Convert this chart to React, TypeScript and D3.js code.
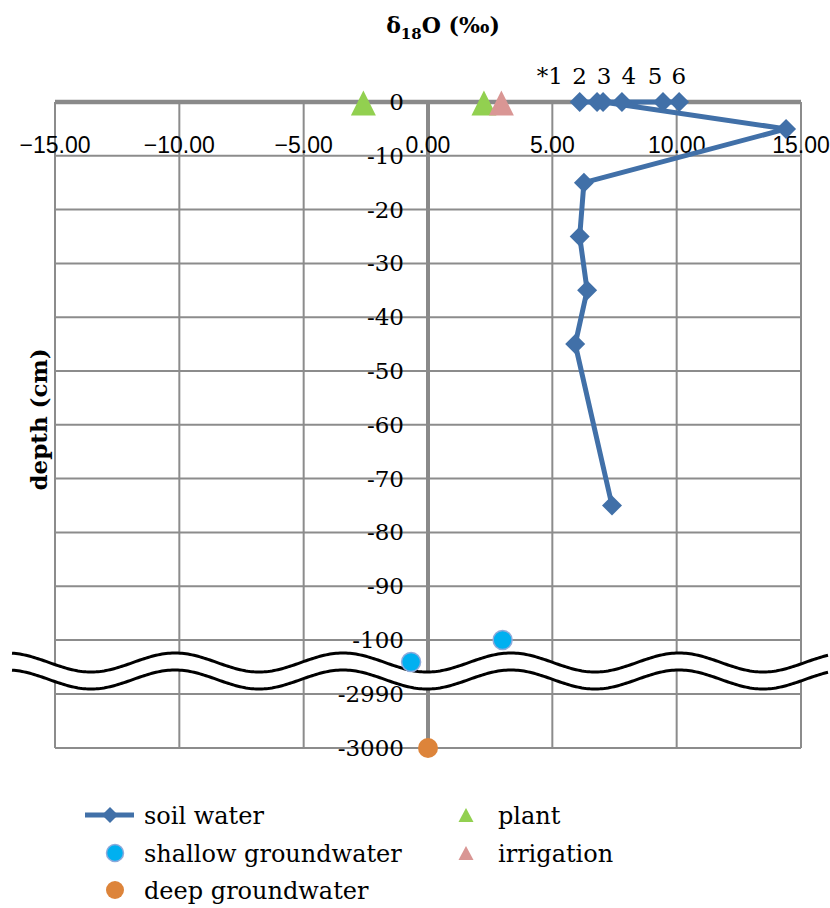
import React from 'react';
import * as d3 from 'd3';

// soil water profile (δ18O ‰ vs depth cm); first six are the surface samples *1..6
const soilX = [10.1, 9.45, 7.8, 6.1, 6.8, 7.04, 14.4, 6.27, 6.1, 6.4, 5.92, 7.4];
const soilDepth = [0, 0, 0, 0, 0, 0, -5, -15, -25, -35, -45, -75];
const plantX = [-2.6, 2.25];
const plantDepth = [0, 0];
const irrigationX = [2.95];
const irrigationDepth = [0];
const shallowX = [3.0, -0.68];
const shallowDepth = [-100, -1280];
const deepX = [0.0];
const deepDepth = [-3000];

const xTicks = [-15, -10, -5, 0, 5, 10, 15];
const yTicks = [0, -10, -20, -30, -40, -50, -60, -70, -80, -90, -100, -2990, -3000];
const sampleLabels = ['*1', '2', '3', '4', '5', '6'];
const sampleLabelX = [4.9, 6.1, 7.08, 8.08, 9.13, 10.09];

const BLUE = '#4170a8';
const GREEN = '#92d050';
const PINK = '#d99694';
const CYAN = '#00b0f0';
const ORANGE = '#dd843a';
const GRID = '#8c8c8c';
const SERIF = '"DejaVu Serif", serif';
const SANS = '"Liberation Sans", Arial, sans-serif';

const W = 830;
const H = 908;

export default function App() {
  const x = d3.scaleLinear().domain([-15, 15]).range([55, 801]);
  // broken axis: 0..-100 linear, then jump to -2990..-3000
  const y = d3.scaleLinear().domain([0, -100, -2990, -3000]).range([102, 640, 694, 748]);

  const soilPts: [number, number][] = soilX.map((v, i) => [x(v), y(soilDepth[i])]);
  const line = d3.line();

  const diamond = (cx: number, cy: number, r: number) =>
    `M${cx},${cy - r}L${cx + r},${cy}L${cx},${cy + r}L${cx - r},${cy}Z`;
  const tri = (cx: number, cy: number, w: number, h: number) =>
    `M${cx},${cy - h / 2}L${cx + w / 2},${cy + h / 2}L${cx - w / 2},${cy + h / 2}Z`;

  // wavy break marks
  const waveMid = (y(-100) + y(-2990)) / 2 + 4;
  const amp = 9.5;
  const period = 168;
  const gap = 8.5;
  const xs = d3.range(12, 829, 2);
  const wave = (off: number) =>
    xs.map((px) => [px, waveMid + off - amp * Math.cos((2 * Math.PI * (px - 175)) / period)] as [number, number]);
  const topWave = wave(-gap);
  const botWave = wave(gap);
  const band = topWave.concat(botWave.slice().reverse());

  const fmtX = (v: number) => (v < 0 ? '\u2212' : '') + Math.abs(v).toFixed(2);

  return (
    <svg width={W} height={H} style={{ position: 'absolute', left: 0, top: 0, background: '#fff' }}>
      {/* grid */}
      {yTicks.map((t) => (
        <line key={'gy' + t} x1={x(-15)} x2={x(15)} y1={y(t)} y2={y(t)} stroke={GRID} strokeWidth={2} />
      ))}
      {xTicks.map((t) => (
        <line key={'gx' + t} x1={x(t)} x2={x(t)} y1={y(0)} y2={y(-3000)} stroke={GRID} strokeWidth={2} />
      ))}
      {/* axes */}
      <line x1={x(-15)} x2={x(15)} y1={y(0)} y2={y(0)} stroke="#8a8a8a" strokeWidth={4.5} />
      <line x1={x(0)} x2={x(0)} y1={y(0)} y2={y(-3000)} stroke="#8a8a8a" strokeWidth={4} />

      {/* x tick labels */}
      {xTicks.map((t) => (
        <text key={'xl' + t} x={x(t)} y={y(0) + 51} textAnchor="middle" fontFamily={SANS} fontSize={23} fill="#000">
          {fmtX(t)}
        </text>
      ))}
      {/* y tick labels */}
      {yTicks.map((t) => (
        <text key={'yl' + t} x={x(0) - 24} y={y(t) + 8} textAnchor="end" fontFamily={SERIF} fontSize={23} fill="#000">
          {t === 0 ? '0' : '-' + Math.abs(t)}
        </text>
      ))}

      {/* break marks */}
      <path d={line(band) + 'Z'} fill="#fff" stroke="none" />
      <path d={line(topWave) || ''} fill="none" stroke="#000" strokeWidth={3} />
      <path d={line(botWave) || ''} fill="none" stroke="#000" strokeWidth={3} />

      {/* soil water */}
      <path d={line(soilPts) || ''} fill="none" stroke={BLUE} strokeWidth={5} strokeLinejoin="round" />
      {soilPts.map(([px, py], i) => (
        <path key={'sw' + i} d={diamond(px, py, 10)} fill={BLUE} />
      ))}
      {/* plant & irrigation */}
      {plantX.map((v, i) => (
        <path key={'pl' + i} d={tri(x(v), y(plantDepth[i]) + 1, 25, 25)} fill={GREEN} />
      ))}
      {irrigationX.map((v, i) => (
        <path key={'ir' + i} d={tri(x(v), y(irrigationDepth[i]) + 1, 25, 25)} fill={PINK} />
      ))}
      {/* groundwater */}
      {shallowX.map((v, i) => (
        <circle key={'sh' + i} cx={x(v)} cy={y(shallowDepth[i])} r={9.5} fill={CYAN} stroke="#8eaadb" strokeWidth={1.5} />
      ))}
      {deepX.map((v, i) => (
        <circle key={'dp' + i} cx={x(v)} cy={y(deepDepth[i])} r={10} fill={ORANGE} />
      ))}

      {/* sample labels */}
      {sampleLabels.map((s, i) => (
        <text key={'sl' + i} x={x(sampleLabelX[i])} y={84} textAnchor="middle" fontFamily={SERIF} fontSize={23} fill="#000">
          {s}
        </text>
      ))}

      {/* title */}
      <text x={443} y={33} textAnchor="middle" fontFamily={SERIF} fontSize={22} fontWeight="bold" fill="#000">
        δ<tspan fontSize={15} dy={6}>18</tspan>
        <tspan dy={-6}>O (‰)</tspan>
      </text>
      {/* y title */}
      <text
        transform={`translate(47,${y(-59)}) rotate(-90)`}
        textAnchor="middle"
        fontFamily={SERIF}
        fontSize={23}
        fontWeight="bold"
        fill="#000"
      >
        depth (cm)
      </text>

      {/* legend */}
      <g fontFamily={SERIF} fontSize={24} fill="#000">
        <line x1={85} x2={134} y1={815} y2={815} stroke={BLUE} strokeWidth={5} />
        <path d={diamond(110, 815, 8)} fill={BLUE} />
        <text x={144} y={824}>soil water</text>
        <circle cx={115} cy={853} r={8.5} fill={CYAN} stroke="#8eaadb" strokeWidth={1.5} />
        <text x={144} y={862}>shallow groundwater</text>
        <circle cx={115} cy={890} r={9} fill={ORANGE} />
        <text x={144} y={899}>deep groundwater</text>
        <path d={tri(466, 815, 15, 14)} fill={GREEN} />
        <text x={498} y={824}>plant</text>
        <path d={tri(466, 853, 15, 14)} fill={PINK} />
        <text x={498} y={862}>irrigation</text>
      </g>
    </svg>
  );
}
